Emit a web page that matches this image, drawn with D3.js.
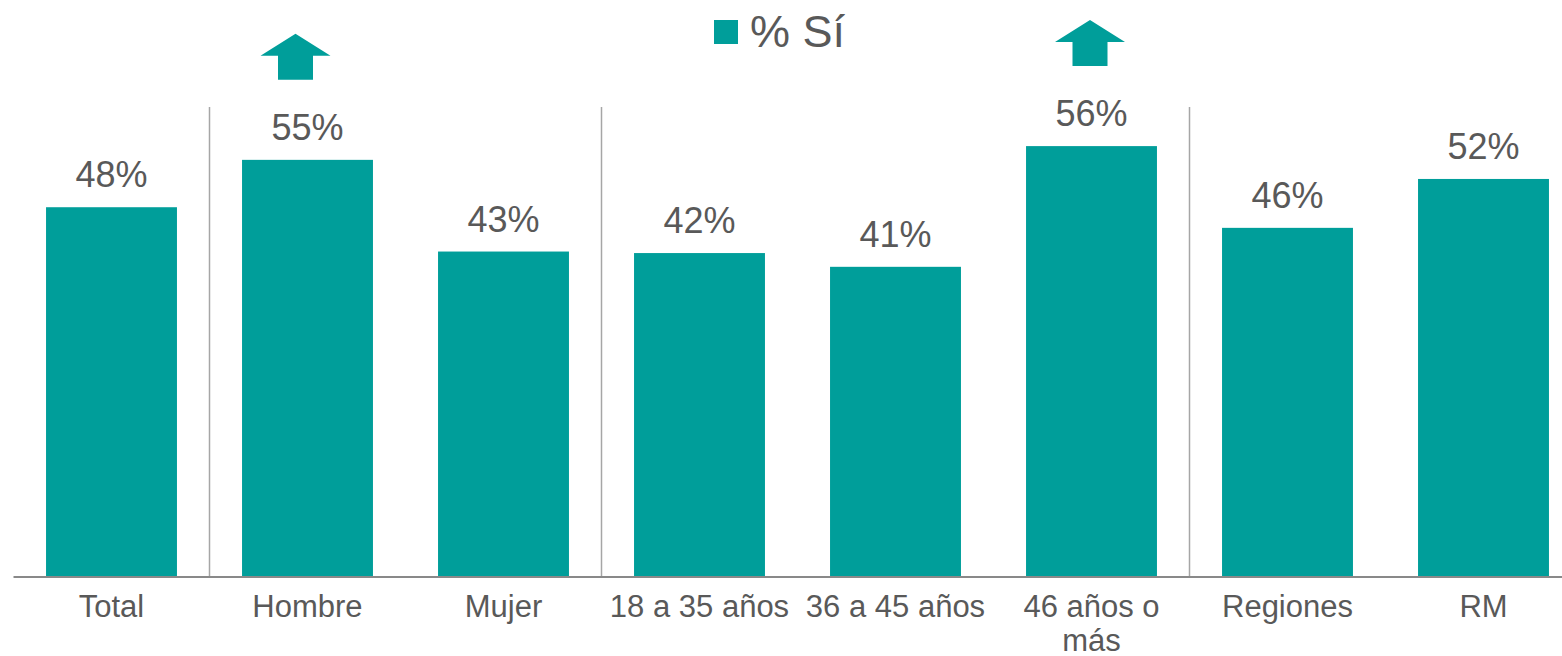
<!DOCTYPE html>
<html>
<head>
<meta charset="utf-8">
<script src="https://cdn.jsdelivr.net/npm/d3@7"></script>
<style>
  html, body { margin: 0; padding: 0; background: #fff; overflow: hidden; }
  svg { display: block; font-family: "Liberation Sans", Arial, sans-serif; }
</style>
</head>
<body>
<div id="chart"></div>
<script>
// categories (groups split by the thin vertical rules)
var categories = ["Total", "Hombre", "Mujer", "18 a 35 años", "36 a 45 años", "46 años o más", "Regiones", "RM"];
var labelLines = [["Total"], ["Hombre"], ["Mujer"], ["18 a 35 años"], ["36 a 45 años"], ["46 años o", "más"], ["Regiones"], ["RM"]];
// % Sí
var values = [48.4, 54.6, 42.6, 42.4, 40.6, 56.4, 45.7, 52.1];
// a group separator sits before these categories
var groupStarts = ["Hombre", "18 a 35 años", "Regiones"];
// categories flagged with an up arrow
var arrowCats = ["Hombre", "46 años o más"];
var seriesName = "% Sí";

var width = 1562, height = 656;
var teal = "#009e9a";
var textGrey = "#595959";

var svg = d3.select("#chart").append("svg")
  .attr("width", width)
  .attr("height", height);

var baseY = 577;

var x = d3.scaleBand()
  .domain(categories)
  .range([13.5, 1581.5])
  .paddingInner(0.332)
  .paddingOuter(0.166);

var y = d3.scaleLinear()
  .domain([0, 60])
  .range([baseY, baseY - 7.64 * 60]);

var step = x.step();
var bandStart = (d) => { return x(d) - x.paddingInner() * step / 2; };

// group separators
svg.append("g")
  .selectAll("line")
  .data(groupStarts)
  .enter()
  .append("line")
  .attr("x1", (d) => bandStart(d))
  .attr("x2", (d) => bandStart(d))
  .attr("y1", 107)
  .attr("y2", baseY)
  .style("stroke", "#a6a6a6")
  .style("stroke-width", 1.5);

// bars
svg.append("g")
  .selectAll("rect")
  .data(categories)
  .enter()
  .append("rect")
  .attr("x", (d) => x(d))
  .attr("width", x.bandwidth())
  .attr("y", (d, i) => y(values[i]))
  .attr("height", (d, i) => baseY - y(values[i]))
  .style("fill", teal);

// value labels
svg.append("g")
  .selectAll("text")
  .data(categories)
  .enter()
  .append("text")
  .attr("x", (d) => x(d) + x.bandwidth() / 2)
  .attr("y", (d, i) => y(values[i]) - 20)
  .attr("text-anchor", "middle")
  .style("font-size", "36px")
  .style("fill", textGrey)
  .text((d, i) => Math.round(values[i]) + "%");

// x axis
var xAxis = d3.axisBottom(x).tickSize(0).tickFormat("");
var axisG = svg.append("g")
  .attr("transform", "translate(0," + baseY + ")")
  .call(xAxis);
axisG.select(".domain")
  .attr("d", "M13.5,0H1581.5")
  .style("stroke", "#898989")
  .style("stroke-width", 2);

// category labels (wrapped)
var catLabels = svg.append("g")
  .selectAll("text")
  .data(categories)
  .enter()
  .append("text")
  .attr("x", (d) => x(d) + x.bandwidth() / 2)
  .attr("y", 617)
  .attr("text-anchor", "middle")
  .style("font-size", "31px")
  .style("fill", textGrey);

catLabels.each(function(d, i) {
  var t = d3.select(this);
  labelLines[i].forEach((line, j) => {
    t.append("tspan")
      .attr("x", x(d) + x.bandwidth() / 2)
      .attr("dy", j === 0 ? 0 : 34)
      .text(line);
  });
});

// up arrows
var arrowShift = { "Hombre": -12, "46 años o más": -1.5 };
var arrowPath = "M0,-46L35,-24L17.5,-24L17.5,0L-17.5,0L-17.5,-24L-35,-24Z";
svg.append("g")
  .selectAll("path")
  .data(arrowCats)
  .enter()
  .append("path")
  .attr("d", arrowPath)
  .attr("transform", (d) => {
    var i = categories.indexOf(d);
    var cx = x(d) + x.bandwidth() / 2 + (arrowShift[d] || 0);
    return "translate(" + cx + "," + (y(values[i]) - 80) + ")";
  })
  .style("fill", teal);

// legend
var legend = svg.append("g").attr("transform", "translate(714,20)");
legend.append("rect")
  .attr("width", 24)
  .attr("height", 24)
  .style("fill", teal);
legend.append("text")
  .attr("x", 36)
  .attr("y", 27)
  .style("font-size", "45px")
  .style("fill", textGrey)
  .text(seriesName);
</script>
</body>
</html>
